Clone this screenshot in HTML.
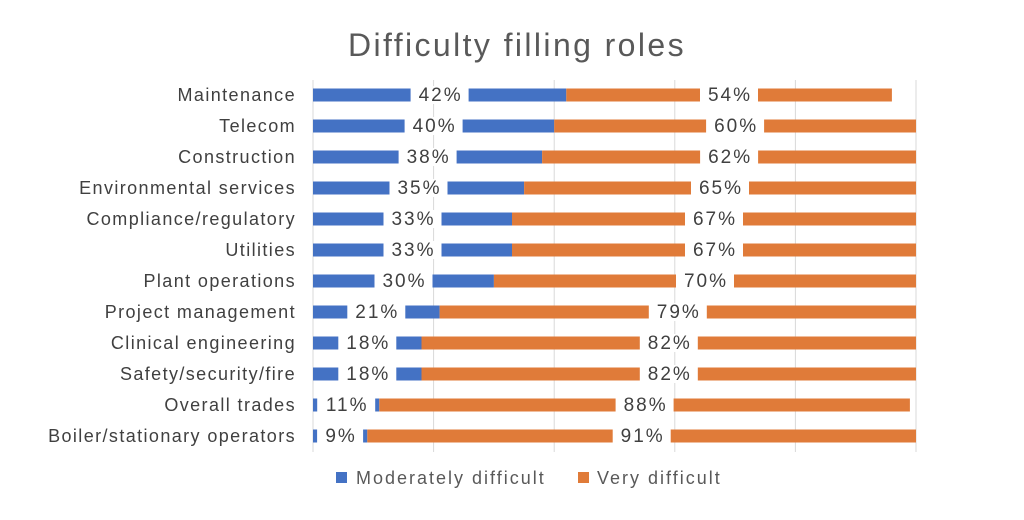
<!DOCTYPE html>
<html><head><meta charset="utf-8"><style>body{margin:0;background:#fff}svg{display:block}</style></head>
<body>
<svg width="1024" height="520" xmlns="http://www.w3.org/2000/svg" font-family="Liberation Sans, sans-serif">
<rect width="1024" height="520" fill="#fff"/>
<text x="517" y="56" font-size="32" fill="#595959" text-anchor="middle" letter-spacing="2.4">Difficulty filling roles</text>
<g stroke="#d9d9d9" stroke-width="1">
<line x1="313" y1="80" x2="313" y2="452"/><line x1="433.6" y1="80" x2="433.6" y2="452"/><line x1="554.2" y1="80" x2="554.2" y2="452"/><line x1="674.8" y1="80" x2="674.8" y2="452"/><line x1="795.4" y1="80" x2="795.4" y2="452"/><line x1="916" y1="80" x2="916" y2="452"/>
</g>
<g font-size="18" fill="#404040" text-anchor="end" letter-spacing="1.4">
<text x="296" y="101">Maintenance</text><text x="296" y="132">Telecom</text><text x="296" y="163">Construction</text><text x="296" y="194">Environmental services</text><text x="296" y="225">Compliance/regulatory</text><text x="296" y="256">Utilities</text><text x="296" y="287">Plant operations</text><text x="296" y="318">Project management</text><text x="296" y="349">Clinical engineering</text><text x="296" y="380">Safety/security/fire</text><text x="296" y="411">Overall trades</text><text x="296" y="442">Boiler/stationary operators</text>
</g>
<g fill="#4472C4">
<rect x="313" y="88.5" width="253.3" height="13"/><rect x="313" y="119.5" width="241.2" height="13"/><rect x="313" y="150.5" width="229.1" height="13"/><rect x="313" y="181.5" width="211.1" height="13"/><rect x="313" y="212.5" width="199" height="13"/><rect x="313" y="243.5" width="199" height="13"/><rect x="313" y="274.5" width="180.9" height="13"/><rect x="313" y="305.5" width="126.6" height="13"/><rect x="313" y="336.5" width="108.5" height="13"/><rect x="313" y="367.5" width="108.5" height="13"/><rect x="313" y="398.5" width="66.3" height="13"/><rect x="313" y="429.5" width="54.3" height="13"/>
</g>
<g fill="#E07B39">
<rect x="566.3" y="88.5" width="325.6" height="13"/><rect x="554.2" y="119.5" width="361.8" height="13"/><rect x="542.1" y="150.5" width="373.9" height="13"/><rect x="524.1" y="181.5" width="391.9" height="13"/><rect x="512" y="212.5" width="404" height="13"/><rect x="512" y="243.5" width="404" height="13"/><rect x="493.9" y="274.5" width="422.1" height="13"/><rect x="439.6" y="305.5" width="476.4" height="13"/><rect x="421.5" y="336.5" width="494.5" height="13"/><rect x="421.5" y="367.5" width="494.5" height="13"/><rect x="379.3" y="398.5" width="530.6" height="13"/><rect x="367.3" y="429.5" width="548.7" height="13"/>
</g>
<g fill="#fff">
<rect x="410.6" y="86" width="58" height="18"/><rect x="700" y="86" width="58" height="18"/>
<rect x="404.6" y="117" width="58" height="18"/><rect x="706.1" y="117" width="58" height="18"/>
<rect x="398.6" y="148" width="58" height="18"/><rect x="700.1" y="148" width="58" height="18"/>
<rect x="389.5" y="179" width="58" height="18"/><rect x="691" y="179" width="58" height="18"/>
<rect x="383.5" y="210" width="58" height="18"/><rect x="685" y="210" width="58" height="18"/>
<rect x="383.5" y="241" width="58" height="18"/><rect x="685" y="241" width="58" height="18"/>
<rect x="374.5" y="272" width="58" height="18"/><rect x="676" y="272" width="58" height="18"/>
<rect x="347.3" y="303" width="58" height="18"/><rect x="648.8" y="303" width="58" height="18"/>
<rect x="338.3" y="334" width="58" height="18"/><rect x="639.8" y="334" width="58" height="18"/>
<rect x="338.3" y="365" width="58" height="18"/><rect x="639.8" y="365" width="58" height="18"/>
<rect x="317.2" y="396" width="58" height="18"/><rect x="615.6" y="396" width="58" height="18"/>
<rect x="317.1" y="427" width="46" height="18"/><rect x="612.7" y="427" width="58" height="18"/>
</g>
<g font-size="19" fill="#404040" text-anchor="middle" letter-spacing="2">
<text x="440.6" y="101">42%</text><text x="730" y="101">54%</text>
<text x="434.6" y="132">40%</text><text x="736.1" y="132">60%</text>
<text x="428.6" y="163">38%</text><text x="730.1" y="163">62%</text>
<text x="419.5" y="194">35%</text><text x="721" y="194">65%</text>
<text x="413.5" y="225">33%</text><text x="715" y="225">67%</text>
<text x="413.5" y="256">33%</text><text x="715" y="256">67%</text>
<text x="404.5" y="287">30%</text><text x="706" y="287">70%</text>
<text x="377.3" y="318">21%</text><text x="678.8" y="318">79%</text>
<text x="368.3" y="349">18%</text><text x="669.8" y="349">82%</text>
<text x="368.3" y="380">18%</text><text x="669.8" y="380">82%</text>
<text x="347.2" y="411">11%</text><text x="645.6" y="411">88%</text>
<text x="341.1" y="442">9%</text><text x="642.7" y="442">91%</text>
</g>
<rect x="336" y="472" width="11" height="11" fill="#4472C4"/>
<text x="356" y="484" font-size="18" fill="#595959" letter-spacing="2">Moderately difficult</text>
<rect x="578" y="472" width="11" height="11" fill="#E07B39"/>
<text x="597" y="484" font-size="18" fill="#595959" letter-spacing="2">Very difficult</text>
</svg>
</body></html>
